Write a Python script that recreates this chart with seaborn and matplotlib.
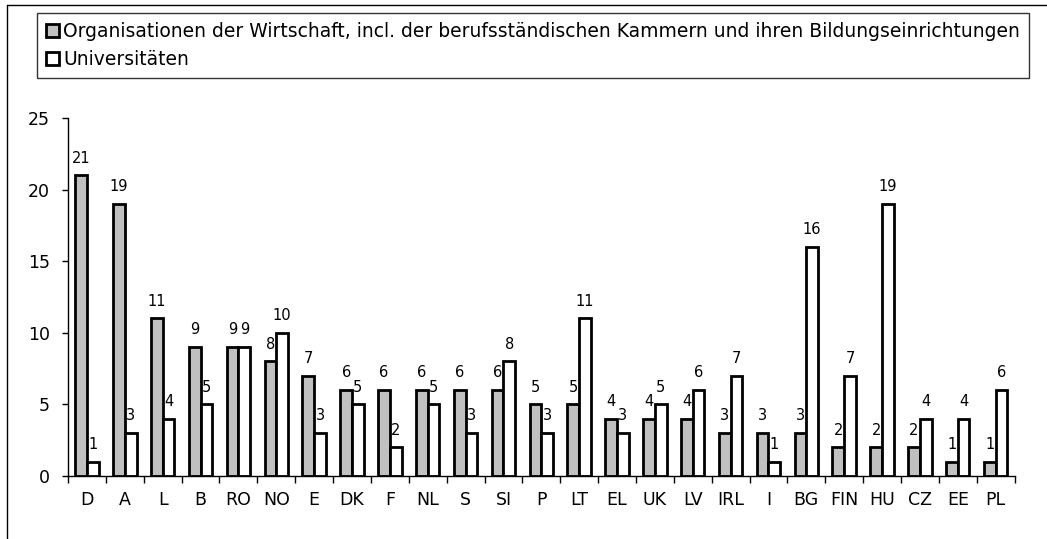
import pandas as pd
import seaborn as sns
import matplotlib.pyplot as plt
from matplotlib.lines import Line2D
from matplotlib.patches import Patch

countries = ['D', 'A', 'L', 'B', 'RO', 'NO', 'E', 'DK', 'F', 'NL', 'S', 'SI', 'P', 'LT',
             'EL', 'UK', 'LV', 'IRL', 'I', 'BG', 'FIN', 'HU', 'CZ', 'EE', 'PL']
wirtschaft = [21, 19, 11, 9, 9, 8, 7, 6, 6, 6, 6, 6, 5, 5, 4, 4, 4, 3, 3, 3, 2, 2, 2, 1, 1]
universitaeten = [1, 3, 4, 5, 9, 10, 3, 5, 2, 5, 3, 8, 3, 11, 3, 5, 6, 7, 1, 16, 7, 19, 4, 4, 6]

lab_org = "Organisationen der Wirtschaft, incl. der berufsständischen Kammern und ihren Bildungseinrichtungen"
lab_uni = "Universitäten"

df = pd.DataFrame({
    'land': countries * 2,
    'wert': wirtschaft + universitaeten,
    'gruppe': [lab_org] * len(countries) + [lab_uni] * len(countries),
})

sns.set_theme(style="white")
plt.rcParams['font.family'] = ['DejaVu Sans']
plt.rcParams['text.color'] = 'black'
plt.rcParams['xtick.color'] = 'black'
plt.rcParams['ytick.color'] = 'black'

fig = plt.figure(figsize=(10.47, 5.39), dpi=100)
ax = fig.add_axes([0.065, 0.117, 0.904, 0.664])

sns.barplot(data=df, x='land', y='wert', hue='gruppe',
            palette={lab_org: '#C0C0C0', lab_uni: 'white'},
            edgecolor='black', linewidth=2, width=0.62, saturation=1,
            ax=ax, legend=False)

# Werte über den Balken
for cont in ax.containers:
    ax.bar_label(cont, fontsize=10.5, padding=7, color='black')

ax.set_ylim(0, 25)
ax.set_xlim(-0.5, len(countries) - 0.5)
ax.set_yticks([0, 5, 10, 15, 20, 25])
ax.set_xlabel("")
ax.set_ylabel("")
ax.tick_params(axis='y', which='major', length=4, width=1, direction='out',
               left=True, labelsize=12.5, pad=9, color='black', labelcolor='black')
ax.tick_params(axis='x', which='major', length=0, labelsize=12.5, pad=11, labelcolor='black')
ax.set_xticks([i - 0.5 for i in range(len(countries) + 1)], minor=True)
ax.tick_params(axis='x', which='minor', length=5, width=1, direction='out',
               bottom=True, color='black')
for s in ['top', 'right']:
    ax.spines[s].set_visible(False)
for s in ['left', 'bottom']:
    ax.spines[s].set_color('black')
    ax.spines[s].set_linewidth(1)

handles = [Patch(facecolor='#C0C0C0', edgecolor='black', linewidth=2, label=lab_org),
           Patch(facecolor='white', edgecolor='black', linewidth=2, label=lab_uni)]
leg = fig.legend(handles=handles, loc='upper left', bbox_to_anchor=(0.035, 0.976),
                 fontsize=13.5, frameon=True, fancybox=False, handlelength=0.7,
                 handleheight=0.7, handletextpad=0.2, borderpad=0.5,
                 labelspacing=0.45, borderaxespad=0)
leg.get_frame().set_edgecolor('black')
leg.get_frame().set_linewidth(1)
for t in leg.get_texts():
    t.set_color('black')

# Rahmen links und oben
fig.add_artist(Line2D([0.007, 0.007], [0, 0.99], color='black', lw=1, transform=fig.transFigure))
fig.add_artist(Line2D([0.007, 1], [0.99, 0.99], color='black', lw=1, transform=fig.transFigure))

plt.savefig("out.png", dpi=100)
